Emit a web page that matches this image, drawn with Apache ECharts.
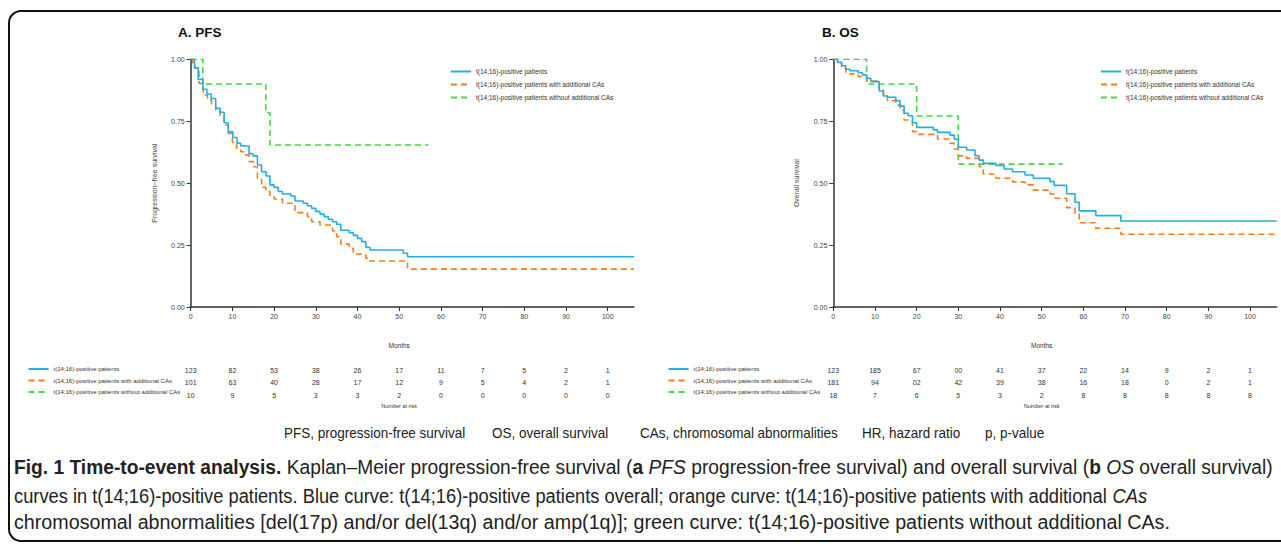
<!DOCTYPE html>
<html><head><meta charset="utf-8">
<script src="https://cdn.jsdelivr.net/npm/echarts@6/dist/echarts.min.js"></script>
<style>html,body{margin:0;padding:0;background:#fff}#c{width:1281px;height:544px}</style>
</head><body><div id="c"></div>
<script>
// ---------- DATA ----------
const seriesNames = ['t(14;16)-positive patients', 't(14;16)-positive patients with additional CAs', 't(14;16)-positive patients without additional CAs'];
const xTicks = [0,10,20,30,40,50,60,70,80,90,100];
const yTicks = [0,0.25,0.5,0.75,1];

// PFS curves: [month, survival]
const pfsAll = [[0,1],[0.9,0.966],[1.8,0.919],[2.9,0.879],[3.9,0.86],[4.9,0.842],[6,0.802],[7.1,0.786],[8,0.744],[9,0.708],[10.1,0.684],[11.1,0.661],[12,0.65],[14,0.619],[14.9,0.61],[16,0.573],[17,0.546],[18.1,0.529],[19,0.493],[20,0.483],[21,0.466],[22,0.456],[24,0.448],[25,0.428],[27,0.419],[28,0.409],[29,0.398],[30,0.386],[31,0.375],[32,0.365],[33,0.354],[34,0.344],[35,0.334],[36,0.31],[38,0.3],[39,0.289],[40,0.277],[41,0.264],[42,0.241],[43,0.23],[51,0.217],[52,0.203],[106.3,0.203]];
const pfsWith = [[0,1],[0.5,0.985],[1,0.964],[2,0.903],[3,0.856],[4,0.836],[5,0.815],[6,0.795],[7,0.775],[8,0.735],[9,0.701],[10,0.665],[11,0.641],[12,0.627],[13,0.614],[14,0.587],[15,0.566],[16,0.515],[17,0.483],[18,0.466],[19,0.445],[20,0.436],[22,0.419],[25,0.381],[28,0.365],[29,0.344],[31,0.331],[34,0.307],[35,0.284],[36,0.254],[38,0.237],[39,0.214],[42,0.197],[43,0.186],[52,0.153],[106.3,0.153]];
const pfsWithout = [[0,1],[2.9,0.9],[18,0.784],[19,0.654],[57,0.654]];

// OS curves
const osAll = [[0,1],[1,0.988],[2,0.974],[3,0.96],[4,0.954],[6,0.946],[7,0.937],[8,0.923],[9,0.91],[11,0.872],[12,0.852],[13,0.847],[15,0.833],[16,0.811],[17,0.782],[18,0.772],[19,0.744],[20,0.725],[24,0.715],[25,0.705],[28,0.694],[29,0.677],[30,0.645],[32,0.634],[34,0.611],[35,0.593],[36,0.58],[39,0.571],[41,0.557],[43,0.546],[46,0.533],[48,0.52],[52,0.506],[53,0.491],[56,0.457],[58,0.423],[59,0.388],[63,0.369],[69,0.347],[106.4,0.347]];
const osWith = [[0,1],[1,0.985],[2,0.964],[3,0.948],[4,0.941],[6,0.93],[8,0.912],[11,0.883],[12,0.86],[13,0.833],[15,0.815],[16,0.795],[17,0.755],[19,0.708],[20,0.697],[25,0.678],[28,0.661],[29,0.638],[30,0.61],[32,0.6],[35,0.566],[36,0.537],[39,0.52],[43,0.505],[46,0.493],[48,0.472],[52,0.456],[53,0.439],[56,0.401],[58,0.378],[59,0.34],[63,0.318],[69,0.294],[106.4,0.294]];
const osWithout = [[0,1],[8,0.9],[20,0.771],[30,0.577],[55,0.577]];

// Number at risk (as printed)
const pfsRiskAll = ['123','82','53','38','26','17','11','7','5','2','1'];
const pfsRiskWith = ['101','63','40','28','17','12','9','5','4','2','1'];
const pfsRiskWithout = ['10','9','5','3','3','2','0','0','0','0','0'];
const osRiskAll = ['123','185','67','00','41','37','22','14','9','2','1'];
const osRiskWith = ['181','94','02','42','39','38','16','18','0','2','1'];
const osRiskWithout = ['18','7','6','5','3','2','8','8','8','8','8'];

const abbreviations = ['PFS, progression-free survival','OS, overall survival','CAs, chromosomal abnormalities','HR, hazard ratio','p, p-value'];

// ---------- STYLE ----------
const colors = ['#22AFE8','#FA7D1A','#3ED93E'];
const dashes = ['solid',[6,4],[6,4]];
const FONT = 'Liberation Sans, Arial, sans-serif';

const chart = echarts.init(document.getElementById('c'), null, {renderer:'svg', width:1281, height:544});

const grids = [
  {left:190.7, top:59.3, width:443.3, height:247.7},
  {left:833.3, top:59.3, width:443.4, height:247.7}
];
function xAxis(i, max){
  return {type:'value', gridIndex:i, min:0, max:max, interval:10,
    axisLine:{show:true, lineStyle:{color:'#333', width:1.5}},
    axisTick:{show:true, length:4, customValues:xTicks, lineStyle:{color:'#333'}},
    axisLabel:{fontSize:7, color:'#444', fontFamily:FONT, margin:6, customValues:xTicks},
    splitLine:{show:false}};
}
function yAxis(i, name){
  return {type:'value', gridIndex:i, min:0, max:1, interval:0.25,
    name:name, nameLocation:'middle', nameRotate:90, nameGap:33,
    nameTextStyle:{fontSize:7, color:'#444', fontFamily:FONT},
    axisLine:{show:true, lineStyle:{color:'#333', width:1.5}},
    axisTick:{show:true, length:4, lineStyle:{color:'#333'}},
    axisLabel:{fontSize:7, color:'#444', fontFamily:FONT, margin:6, formatter:v=>v.toFixed(2)},
    splitLine:{show:false}};
}
const curves = [[pfsAll,pfsWith,pfsWithout],[osAll,osWith,osWithout]];
const series = [];
curves.forEach((set,g)=>{
  set.forEach((d,k)=>{
    series.push({type:'line', name:seriesNames[k], xAxisIndex:g, yAxisIndex:g, data:d, step:'end',
      showSymbol:false, symbol:'none', silent:true, animation:false, z:3-k,
      lineStyle:{color:colors[k], width:1.6, type:dashes[k]}, itemStyle:{color:colors[k]}});
  });
});
function legend(id, left, top, gap, w, h, fs){
  return {id:id, left:left, top:top, orient:'vertical', padding:0, itemGap:gap, itemWidth:w, itemHeight:h,
    selectedMode:false, data:seriesNames,
    itemStyle:{opacity:0, borderWidth:0},
    textStyle:{fontSize:fs, color:'#333', fontFamily:FONT}};
}

chart.setOption({
  animation:false,
  grid:grids,
  xAxis:[xAxis(0,106.3), xAxis(1,106.4)],
  yAxis:[yAxis(0,'Progression\u2212free survival'), yAxis(1,'Overall survival')],
  legend:[
    legend('lgA', 450, 68, 6, 20, 8, 6.5),
    legend('lgB', 1100, 68, 6, 20, 8, 6.5),
    legend('rkA', 27.5, 366, 5.5, 20, 7, 6),
    legend('rkB', 667.5, 366, 5.5, 20, 7, 6)
  ],
  series:series
});

// ---------- TEXT / DECORATION ----------
const graphics = [];
graphics.push({type:'rect', shape:{x:9, y:11, width:1300, height:530, r:12}, style:{fill:'none', stroke:'#111', lineWidth:2}, silent:true});
graphics.push({type:'text', x:178, y:32, style:{text:'A. PFS', fontSize:13.5, fontWeight:'bold', fontFamily:FONT, fill:'#111', textVerticalAlign:'middle'}});
graphics.push({type:'text', x:822, y:32, style:{text:'B. OS', fontSize:13.5, fontWeight:'bold', fontFamily:FONT, fill:'#111', textVerticalAlign:'middle'}});

const riskRows = [[pfsRiskAll,pfsRiskWith,pfsRiskWithout],[osRiskAll,osRiskWith,osRiskWithout]];
const rowY = [370, 382.5, 395];
[0,1].forEach(g=>{
  const mid = chart.convertToPixel({xAxisIndex:g}, 50);
  graphics.push({type:'text', x:mid, y:345, style:{text:'Months', fontSize:6.5, fontFamily:FONT, fill:'#333', textAlign:'center', textVerticalAlign:'middle'}});
  graphics.push({type:'text', x:mid, y:406, style:{text:'Number at risk', fontSize:5.5, fontFamily:FONT, fill:'#333', textAlign:'center', textVerticalAlign:'middle'}});
  riskRows[g].forEach((row,r)=>{
    row.forEach((v,i)=>{
      const px = chart.convertToPixel({xAxisIndex:g}, xTicks[i]);
      graphics.push({type:'text', x:px, y:rowY[r], style:{text:v, fontSize:7, fontFamily:FONT, fill:'#333', textAlign:'center', textVerticalAlign:'middle'}});
    });
  });
});

const abbrX = [284, 492, 640, 862, 985];
abbreviations.forEach((t,i)=>{
  graphics.push({type:'text', x:abbrX[i], y:433, scaleX:0.9, style:{text:t, fontSize:15, fontFamily:FONT, fill:'#222', textVerticalAlign:'middle'}});
});

const CAP = 20;
const capScale = [0.96, 0.915, 0.985];
const capRich = {b:{fontWeight:'bold', fontSize:CAP, fontFamily:FONT, fill:'#222'}, i:{fontStyle:'italic', fontSize:CAP, fontFamily:FONT, fill:'#222'}};
const capLines = [
  '{b|Fig. 1 Time-to-event analysis.} Kaplan\u2013Meier progression-free survival ({b|a} {i|PFS} progression-free survival) and overall survival ({b|b} {i|OS} overall survival)',
  'curves in t(14;16)-positive patients. Blue curve: t(14;16)-positive patients overall; orange curve: t(14;16)-positive patients with additional {i|CAs}',
  'chromosomal abnormalities [del(17p) and/or del(13q) and/or amp(1q)]; green curve: t(14;16)-positive patients without additional CAs.'
];
const capY = [467, 496, 522];
capLines.forEach((t,i)=>{
  graphics.push({type:'text', x:14, y:capY[i], scaleX:capScale[i], style:{text:t, rich:capRich, fontSize:CAP, fontFamily:FONT, fill:'#222', textVerticalAlign:'middle'}});
});

chart.setOption({graphic:graphics});
</script>
</body></html>
